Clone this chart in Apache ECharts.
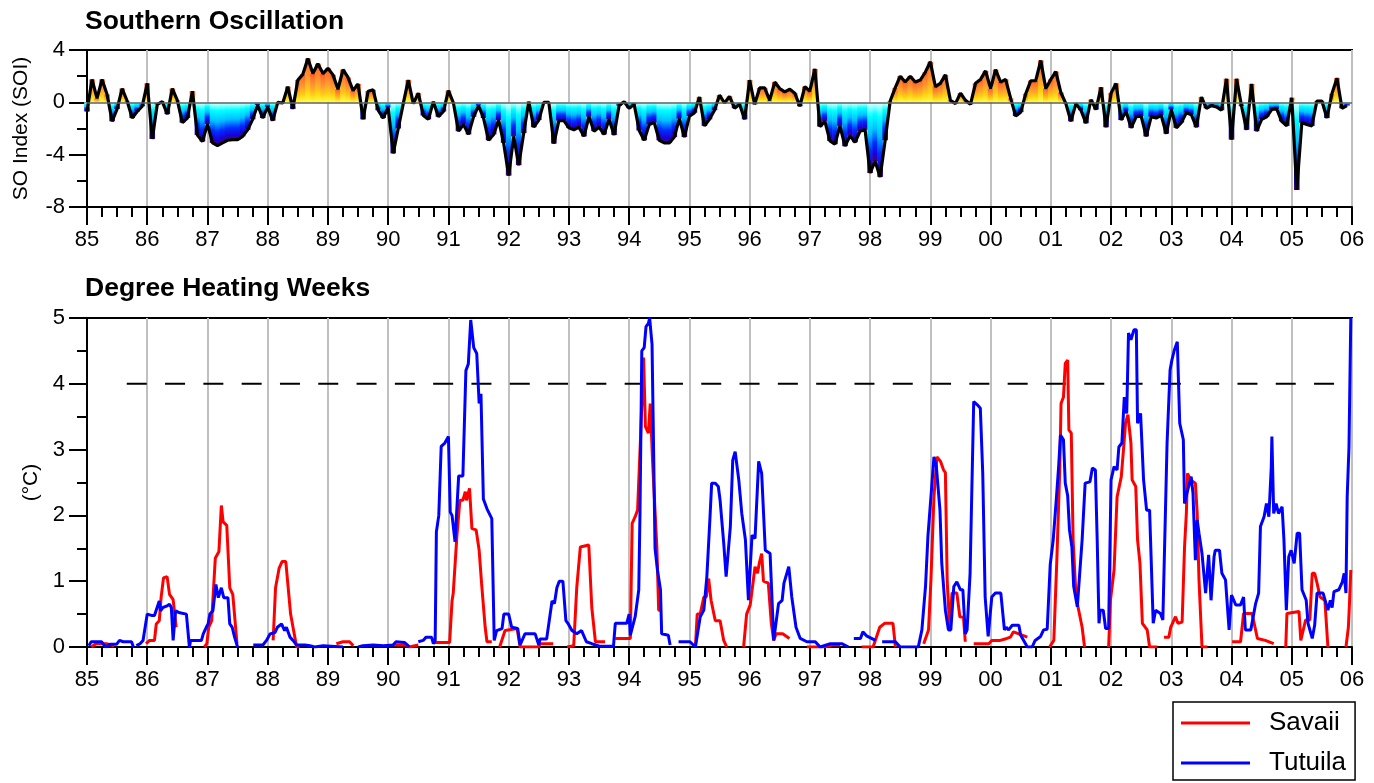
<!DOCTYPE html>
<html><head><meta charset="utf-8">
<script src="https://cdn.jsdelivr.net/npm/echarts@6/dist/echarts.min.js"></script>
<style>html,body{margin:0;padding:0;background:#fff}#c{width:1374px;height:783px}</style>
</head><body><div id="c"></div>
<script>
const FONT = '"Liberation Sans", Arial, Helvetica, sans-serif';

// Monthly SOI, Jan 1985 .. Dec 2005
const soiStartYear = 1985;
const soi = [
  -0.7, 1.75, 0.3, 1.75, 0.6, -1.45, -0.5, 1.05, 0.1, -1.2, -0.7, -0.3,
  1.45, -2.8, -0.15, 0.05, -0.9, 1.05, 0.15, -1.55, -1.2, 0.85, -2.5, -3.0,
  -1.65, -3.1, -3.3, -3.1, -2.9, -2.85, -2.85, -2.6, -2.1, -1.3, -0.2, -1.2,
  -0.35, -1.4, 0.0, -0.05, 1.2, -0.5, 1.7, 2.15, 3.35, 2.2, 2.95, 2.2,
  2.6, 2.1, 1.0, 2.5, 1.9, 0.9, 1.4, -1.3, 0.85, 0.95, -0.6, -1.2,
  -0.4, -3.9, -2.0, -0.1, 1.7, -0.1, 0.7, -1.0, -1.3, 0.05, -1.1, -0.7,
  0.9, -0.05, -2.2, -1.7, -2.45, -1.1, -0.25, -1.2, -2.9, -2.45, -1.35, -3.1,
  -5.6, -2.6, -4.8, -2.35, 0.05, -1.9, -1.35, 0.0, 0.0, -3.15, -1.4, -1.4,
  -1.95, -2.1, -1.9, -2.6, -1.1, -2.2, -1.9, -2.45, -1.3, -2.5, -0.25, 0.05,
  -0.45, -0.15, -2.15, -2.9, -1.7, -1.55, -2.9, -3.1, -3.1, -2.65, -1.25, -2.65,
  -1.05, -0.8, 0.4, -1.8, -1.3, -0.6, 0.55, -0.05, 0.45, -0.45, -0.15, -1.3,
  1.7, -0.15, 1.1, 1.1, 0.15, 1.55, 1.05, 0.8, 1.0, 0.7, -0.3, 1.2,
  0.85, 2.55, -1.85, -1.45, -2.95, -3.2, -1.8, -3.35, -2.55, -3.05, -2.2, -2.1,
  -5.4, -4.5, -5.7, -2.9, 0.1, 1.1, 2.0, 1.55, 2.0, 1.55, 1.7, 2.3,
  3.1, 1.2, 1.45, 2.1, 0.15, -0.1, 0.7, 0.15, -0.15, 1.45, 1.75, 2.4,
  1.05, 2.5, 1.55, 1.75, 0.3, -1.05, -0.75, 0.65, 1.65, 1.65, 3.2, 1.05,
  1.75, 2.35, 0.75, -0.1, -1.45, -0.1, -0.6, -1.6, 0.2, -0.55, 1.15, -1.9,
  0.7, 1.45, -1.35, -0.7, -1.95, -1.1, -1.05, -2.6, -1.1, -1.2, -1.0, -2.4,
  -0.55, -1.95, -1.55, -0.8, -0.95, -1.9, 0.4, -0.45, -0.25, -0.35, -0.6, 1.8,
  -2.85, 1.8, -0.3, -2.1, 1.4, -2.2, -1.3, -1.1, -0.55, -0.5, -1.45, -1.8,
  0.35, -6.7, -1.55, -1.7, -1.8, 0.1, 0.1, -1.2, 0.65, 1.85, -0.45, -0.25
];

// Degree Heating Weeks [year, value]; null = gap in record
const savaii = [
  [1985.07,0],[1985.15,0.05],[1985.32,0.05],[1985.35,0.02],[1985.45,0.02], null,
  [1985.98,0.05],[1986.04,0.1],[1986.12,0.1],[1986.15,0.35],[1986.2,0.4],[1986.23,0.75],[1986.27,1.05],[1986.33,1.07],[1986.37,0.8],[1986.43,0.72],[1986.46,0.7],[1986.48,0.3], null,
  [1986.95,0],[1986.99,0.05],[1987.02,0.3],[1987.07,0.4],[1987.13,1.35],[1987.19,1.45],[1987.23,2.15],[1987.26,1.9],[1987.32,1.85],[1987.37,0.9],[1987.42,0.8],[1987.49,0.05], null,
  [1988.09,0.1],[1988.13,0.9],[1988.19,1.2],[1988.24,1.3],[1988.3,1.3],[1988.38,0.5],[1988.42,0.3],[1988.48,0],[1988.53,0], null,
  [1989.14,0.05],[1989.25,0.08],[1989.36,0.08],[1989.42,0.02], null,
  [1990.1,0.03],[1990.3,0.03],[1990.35,0],[1990.5,0.03], null,
  [1990.75,0.07],[1991.02,0.07],[1991.06,0.7],[1991.08,0.82],[1991.14,1.68],[1991.19,2.23],[1991.24,2.23],[1991.28,2.36],[1991.3,2.23],[1991.35,2.41],[1991.39,1.8],[1991.46,1.78],[1991.51,1.47],[1991.55,0.97],[1991.61,0.3],[1991.64,0.08],[1991.72,0.08], null,
  [1991.85,0],[1991.94,0.25],[1992.14,0.28],[1992.19,0],[1992.5,0],[1992.52,0.05],[1992.74,0.05], null,
  [1992.97,0],[1993.08,0.02],[1993.13,0.9],[1993.19,1.52],[1993.21,1.55],[1993.33,1.55],[1993.38,0.6],[1993.44,0.08],[1993.6,0.08], null,
  [1993.77,0.13],[1994.02,0.13],[1994.05,1.88],[1994.1,1.98],[1994.14,2.08],[1994.19,3.2],[1994.24,4.4],[1994.27,3.35],[1994.32,3.25],[1994.35,3.7],[1994.39,2.8],[1994.46,1.52],[1994.49,0.56],[1994.53,0.56], null,
  [1995.1,0],[1995.13,0.5],[1995.18,0.5],[1995.24,0.76],[1995.28,0.76],[1995.32,1.04],[1995.36,0.71],[1995.43,0.4],[1995.51,0.4],[1995.57,0.1],[1995.62,0], null,
  [1995.9,0],[1995.95,0.5],[1996.01,0.64],[1996.09,1.22],[1996.13,1.12],[1996.16,1.27],[1996.2,1.42],[1996.23,1.0],[1996.31,0.97],[1996.36,0.36],[1996.4,0.1],[1996.44,0.2],[1996.55,0.2],[1996.66,0.13], null,
  [1996.95,0],[1997.23,0],[1997.37,0.03],[1997.5,0.03], null,
  [1997.86,0],[1998.05,0],[1998.16,0.3],[1998.24,0.36],[1998.38,0.36],[1998.42,0], null,
  [1998.89,0.05],[1998.97,0.26],[1999.01,1.02],[1999.06,2.28],[1999.11,2.89],[1999.17,2.82],[1999.22,2.69],[1999.25,2.65],[1999.28,1.0],[1999.32,0.3],[1999.36,0.82],[1999.44,0.82],[1999.49,0.46],[1999.55,0.45],[1999.58,0.08], null,
  [1999.72,0.05],[1999.97,0.05],[2000.02,0.1],[2000.16,0.1],[2000.27,0.13],[2000.33,0.15],[2000.38,0.23],[2000.47,0.2],[2000.61,0.15], null,
  [2000.98,0],[2001.05,0.1],[2001.1,1.32],[2001.15,2.74],[2001.17,3.7],[2001.21,3.8],[2001.24,4.31],[2001.28,4.36],[2001.3,3.3],[2001.34,3.25],[2001.37,1.63],[2001.41,0.92],[2001.44,0.66],[2001.52,0.3],[2001.56,0], null,
  [2001.96,0],[2001.99,0.71],[2002.05,1.17],[2002.1,2.28],[2002.17,2.59],[2002.21,3.04],[2002.24,3.4],[2002.28,3.53],[2002.33,3.1],[2002.35,2.54],[2002.41,2.44],[2002.44,1.63],[2002.48,1.27],[2002.52,0.36],[2002.6,0.26],[2002.64,0],[2002.77,0], null,
  [2002.88,0.15],[2002.96,0.15],[2002.99,0.3],[2003.07,0.46],[2003.11,0.36],[2003.18,0.38],[2003.22,1.52],[2003.25,2.03],[2003.27,2.64],[2003.32,2.54],[2003.4,2.49],[2003.43,2.03],[2003.46,1.02],[2003.51,0],[2003.6,0], null,
  [2004.01,0.08],[2004.15,0.08],[2004.2,0.51],[2004.34,0.51],[2004.43,0.13],[2004.56,0.1],[2004.7,0.05], null,
  [2004.9,0],[2004.92,0.51],[2005.12,0.54],[2005.15,0.1],[2005.23,0.41],[2005.3,0.41],[2005.34,1.12],[2005.38,1.12],[2005.42,0.97],[2005.47,0.76],[2005.55,0.71],[2005.6,0], null,
  [2005.9,0],[2005.94,0.3],[2005.96,0.71],[2005.98,1.17]
];

const tutuila = [
  [1985.03,0.02],[1985.07,0.08],[1985.24,0.08],[1985.31,0],[1985.38,0.04],[1985.49,0.04],[1985.54,0.1],[1985.6,0.08],[1985.74,0.08],[1985.77,0], null,
  [1985.82,0.02],[1985.88,0.05],[1985.93,0.1],[1986.0,0.5],[1986.07,0.48],[1986.12,0.48],[1986.15,0.5],[1986.2,0.7],[1986.22,0.55],[1986.26,0.6],[1986.32,0.62],[1986.37,0.65],[1986.4,0.6],[1986.43,0.1],[1986.47,0.55],[1986.54,0.52],[1986.65,0.5],[1986.67,0.5],[1986.7,0],[1986.72,0.1],[1986.9,0.1],[1986.93,0.2],[1986.98,0.3],[1987.01,0.35],[1987.04,0.5],[1987.09,0.55],[1987.14,0.95],[1987.18,0.75],[1987.23,0.9],[1987.27,0.75],[1987.34,0.75],[1987.37,0.35],[1987.41,0.3],[1987.45,0.15],[1987.5,0], null,
  [1987.76,0.03],[1987.92,0.03],[1987.98,0.1],[1988.04,0.2],[1988.12,0.22],[1988.16,0.3],[1988.23,0.35],[1988.28,0.25],[1988.31,0.3],[1988.37,0.15],[1988.42,0.1],[1988.48,0.03],[1988.62,0.03],[1988.7,0.02],[1988.78,0],[1988.92,0.02],[1988.95,0],[1989.25,0], null,
  [1989.5,0],[1989.58,0.02],[1989.75,0.03],[1989.92,0.02],[1990.08,0.03],[1990.13,0.08],[1990.27,0.07],[1990.32,0.03],[1990.35,0], null,
  [1990.5,0.08],[1990.58,0.1],[1990.63,0.15],[1990.72,0.15],[1990.75,0.05],[1990.78,0.1],[1990.8,1.75],[1990.84,2.0],[1990.88,3.05],[1990.94,3.1],[1991.0,3.2],[1991.03,2.05],[1991.06,2.0],[1991.11,1.6],[1991.17,2.6],[1991.24,2.6],[1991.29,4.2],[1991.33,4.3],[1991.37,4.97],[1991.42,4.55],[1991.47,4.46],[1991.51,3.7],[1991.54,3.85],[1991.58,2.25],[1991.64,2.1],[1991.72,1.95],[1991.76,0.1],[1991.8,0.25],[1991.89,0.28],[1991.92,0.5],[1992.0,0.5],[1992.05,0.3],[1992.15,0.28],[1992.19,0.03],[1992.27,0.2],[1992.44,0.2],[1992.5,0.03],[1992.52,0.12],[1992.63,0.12],[1992.72,0.7],[1992.76,0.66],[1992.8,0.9],[1992.84,1.0],[1992.9,1.0],[1992.95,0.4],[1992.99,0.35],[1993.05,0.25],[1993.13,0.2],[1993.21,0.25],[1993.29,0.08],[1993.38,0.05],[1993.52,0.01],[1993.74,0.01],[1993.77,0.36],[1993.96,0.36],[1994.0,0.5],[1994.02,0.18],[1994.1,0.46],[1994.16,0.87],[1994.18,2.03],[1994.21,4.5],[1994.25,4.55],[1994.28,4.87],[1994.32,4.92],[1994.34,5.0],[1994.38,4.6],[1994.43,1.5],[1994.47,1.17],[1994.52,0.87],[1994.54,0.2],[1994.65,0.18],[1994.68,0.03], null,
  [1994.82,0.08],[1995.01,0.08],[1995.1,0],[1995.18,0.46],[1995.24,0.56],[1995.29,1.07],[1995.34,1.93],[1995.37,2.49],[1995.43,2.49],[1995.48,2.44],[1995.51,2.23],[1995.57,1.58],[1995.61,1.07],[1995.68,1.83],[1995.72,2.84],[1995.76,2.97],[1995.82,2.54],[1995.87,2.03],[1995.93,1.63],[1995.98,0.71],[1996.04,1.7],[1996.09,1.65],[1996.15,2.82],[1996.2,2.64],[1996.26,1.47],[1996.34,1.42],[1996.4,0.1],[1996.48,0.66],[1996.54,0.71],[1996.57,0.97],[1996.65,1.22],[1996.7,0.76],[1996.77,0.3],[1996.84,0.13],[1996.95,0.08],[1997.09,0.08],[1997.17,0],[1997.34,0.05],[1997.53,0.05],[1997.64,0], null,
  [1997.73,0.13],[1997.84,0.13],[1997.88,0.23],[1997.94,0.17],[1998.09,0.1], null,
  [1998.2,0.08],[1998.42,0.08],[1998.5,0],[1998.8,0],[1998.86,0.26],[1998.92,0.92],[1998.96,1.68],[1999.01,2.28],[1999.06,2.89],[1999.1,2.74],[1999.16,2.08],[1999.19,1.27],[1999.25,0.56],[1999.3,0.26],[1999.34,0.26],[1999.39,0.92],[1999.44,0.99],[1999.5,0.87],[1999.54,0.87],[1999.58,0.2],[1999.61,0.26],[1999.66,1.12],[1999.72,3.73],[1999.78,3.68],[1999.83,3.63],[1999.87,2.64],[1999.91,0.76],[1999.96,0.16],[2000.02,0.76],[2000.08,0.82],[2000.17,0.82],[2000.23,0.26],[2000.26,0.3],[2000.3,0.26],[2000.36,0.33],[2000.47,0.33],[2000.5,0.18],[2000.58,0.05],[2000.61,0],[2000.69,0],[2000.74,0.1],[2000.83,0.16],[2000.88,0.26],[2000.94,0.27],[2000.99,1.25],[2001.04,1.63],[2001.09,2.23],[2001.13,2.74],[2001.16,3.22],[2001.21,3.15],[2001.24,2.49],[2001.28,2.3],[2001.31,1.78],[2001.35,1.52],[2001.38,0.92],[2001.44,0.61],[2001.47,0.61],[2001.52,1.63],[2001.57,2.49],[2001.65,2.51],[2001.69,2.72],[2001.74,2.69],[2001.77,1.63],[2001.8,0.36],[2001.82,0.56],[2001.87,0.56],[2001.91,0.28],[2001.96,0.28],[2002.0,2.54],[2002.05,2.74],[2002.1,2.69],[2002.13,3.04],[2002.18,3.1],[2002.22,3.8],[2002.26,3.55],[2002.29,4.77],[2002.33,4.67],[2002.38,4.82],[2002.42,4.82],[2002.44,3.4],[2002.49,3.55],[2002.54,2.54],[2002.59,2.08],[2002.64,2.08],[2002.7,0.36],[2002.74,0.56],[2002.82,0.51],[2002.86,0.41],[2002.93,3.1],[2002.98,4.21],[2003.01,4.36],[2003.05,4.51],[2003.1,4.64],[2003.14,3.4],[2003.2,3.15],[2003.22,2.18],[2003.26,2.34],[2003.33,2.59],[2003.36,2.34],[2003.4,1.32],[2003.43,1.93],[2003.46,1.73],[2003.51,1.42],[2003.57,0.82],[2003.62,1.4],[2003.66,0.71],[2003.71,1.37],[2003.73,1.47],[2003.8,1.47],[2003.84,1.12],[2003.9,1.02],[2003.96,0.26],[2004.0,0.79],[2004.07,0.64],[2004.15,0.64],[2004.2,0.76],[2004.23,0.26],[2004.32,0.26],[2004.4,0.66],[2004.45,0.82],[2004.48,1.83],[2004.54,1.98],[2004.58,2.18],[2004.62,1.98],[2004.66,2.74],[2004.67,3.2],[2004.7,2.03],[2004.74,2.18],[2004.78,2.03],[2004.84,2.13],[2004.87,1.63],[2004.91,0.56],[2004.95,1.37],[2004.99,1.47],[2005.04,1.27],[2005.09,1.73],[2005.13,1.73],[2005.17,0.87],[2005.24,0.71],[2005.27,0.36],[2005.34,0.13],[2005.38,0.33],[2005.42,0.82],[2005.52,0.82],[2005.6,0.56],[2005.64,0.71],[2005.67,0.6],[2005.7,0.84],[2005.78,0.87],[2005.84,0.99],[2005.87,1.12],[2005.9,0.82],[2005.92,2.28],[2005.95,3.04],[2005.98,5.0]
];

const bleachingThreshold = [[1985.66, 4], [2005.75, 4]];
const xMin = 1985, xMax = 2006;

function withGaps(arr) {
  const out = [];
  arr.forEach((p, i) => {
    if (p === null) out.push([arr[i - 1][0], '-']);
    else out.push(p);
  });
  return out;
}
function yy(v) { const y = Math.round(v) % 100; return (y < 10 ? '0' : '') + y; }

const posGrad = { type: 'linear', x: 0, y: 0, x2: 0, y2: 1, colorStops: [
  { offset: 0, color: '#ff4a1a' }, { offset: 0.12, color: '#ff6f26' },
  { offset: 0.45, color: '#ff9a30' }, { offset: 0.72, color: '#ffcc10' },
  { offset: 1, color: '#ffff40' } ] };
const negGrad = { type: 'linear', x: 0, y: 0, x2: 0, y2: 1, colorStops: [
  { offset: 0, color: '#e8ffff' }, { offset: 0.2, color: '#00ffff' },
  { offset: 0.45, color: '#00c0ff' }, { offset: 0.68, color: '#0030ff' },
  { offset: 0.88, color: '#1800d8' }, { offset: 1, color: '#500068' } ] };

const soiPoints = soi.map((v, i) => [soiStartYear + i / 12, v]);
const soiBars = soiPoints.map(p => ({ value: p, itemStyle: { color: p[1] >= 0 ? posGrad : negGrad } }));

const baseX = {
  type: 'value', min: xMin, max: xMax, interval: 1,
  axisLine: { onZero: false, lineStyle: { color: '#000', width: 2 } },
  axisTick: { length: 18, lineStyle: { color: '#000', width: 2 } },
  minorTick: { show: true, splitNumber: 4, length: 10, lineStyle: { color: '#000', width: 2 } },
  axisLabel: { formatter: yy, color: '#000', fontSize: 22, fontFamily: FONT, margin: 22 },
  splitLine: { show: true, lineStyle: { color: '#c0c0c0', width: 2 } }
};

const chart = echarts.init(document.getElementById('c'), null, { renderer: 'canvas' });
chart.setOption({
  animation: false,
  backgroundColor: '#fff',
  textStyle: { fontFamily: FONT },
  title: [
    { text: 'Southern Oscillation', left: 85, top: 8, padding: 0,
      textStyle: { fontSize: 26.5, fontWeight: 'bold', color: '#000', fontFamily: FONT } },
    { text: 'Degree Heating Weeks', left: 85, top: 275, padding: 0,
      textStyle: { fontSize: 26.5, fontWeight: 'bold', color: '#000', fontFamily: FONT } }
  ],
  legend: {
    data: ['Savaii', 'Tutuila'], orient: 'vertical', left: 1173, top: 702,
    icon: 'rect', itemWidth: 69, itemHeight: 3, itemGap: 14,
    borderColor: '#000', borderWidth: 1.5, padding: [8, 9, 4, 8],
    textStyle: { fontSize: 26, color: '#000', fontFamily: FONT, padding: [0, 0, 0, 14] }
  },
  grid: [
    { left: 87, right: 22, top: 50, height: 157, show: true, borderColor: '#000', borderWidth: 2 },
    { left: 87, right: 22, top: 318, height: 329, show: true, borderColor: '#000', borderWidth: 2 }
  ],
  xAxis: [
    Object.assign({ gridIndex: 0 }, baseX),
    Object.assign({ gridIndex: 1 }, baseX)
  ],
  yAxis: [
    { gridIndex: 0, type: 'value', min: -8, max: 4, interval: 4,
      name: 'SO Index (SOI)', nameLocation: 'middle', nameGap: 55,
      nameTextStyle: { fontSize: 21, color: '#000', fontFamily: FONT },
      axisLine: { show: true, lineStyle: { color: '#000', width: 2 } },
      axisTick: { show: true, length: 18, lineStyle: { color: '#000', width: 2 } },
      minorTick: { show: true, splitNumber: 2, length: 10, lineStyle: { color: '#000', width: 2 } },
      axisLabel: { color: '#000', fontSize: 22, fontFamily: FONT, margin: 22 },
      splitLine: { show: false } },
    { gridIndex: 1, type: 'value', min: 0, max: 5, interval: 1,
      name: '(°C)', nameLocation: 'middle', nameGap: 44,
      nameTextStyle: { fontSize: 21, color: '#000', fontFamily: FONT },
      axisLine: { show: true, lineStyle: { color: '#000', width: 2 } },
      axisTick: { show: true, length: 18, lineStyle: { color: '#000', width: 2 } },
      minorTick: { show: true, splitNumber: 2, length: 10, lineStyle: { color: '#000', width: 2 } },
      axisLabel: { color: '#000', fontSize: 22, fontFamily: FONT, margin: 22 },
      splitLine: { show: false } }
  ],
  series: [
    { name: 'SOI fill', type: 'bar', xAxisIndex: 0, yAxisIndex: 0, data: soiBars,
      barWidth: 5.6, silent: true, z: 2,
      markLine: { symbol: 'none', silent: true, label: { show: false },
        lineStyle: { color: '#606060', width: 1.5, type: 'solid' }, data: [{ yAxis: 0 }] } },
    { name: 'SOI', type: 'line', xAxisIndex: 0, yAxisIndex: 0, data: soiPoints,
      showSymbol: false, symbol: 'none', z: 4,
      lineStyle: { color: '#000', width: 3.2 } },
    { name: 'threshold', type: 'line', xAxisIndex: 1, yAxisIndex: 1, data: bleachingThreshold,
      symbol: 'none', silent: true, z: 2,
      lineStyle: { color: '#000', width: 2, type: [20, 18.3] } },
    { name: 'Savaii', type: 'line', xAxisIndex: 1, yAxisIndex: 1, data: withGaps(savaii),
      symbol: 'none', z: 3, color: '#ff0000', lineStyle: { color: '#ff0000', width: 3 } },
    { name: 'Tutuila', type: 'line', xAxisIndex: 1, yAxisIndex: 1, data: withGaps(tutuila),
      symbol: 'none', z: 4, color: '#0000ff', lineStyle: { color: '#0000ff', width: 3 } }
  ]
});
</script>
</body></html>
